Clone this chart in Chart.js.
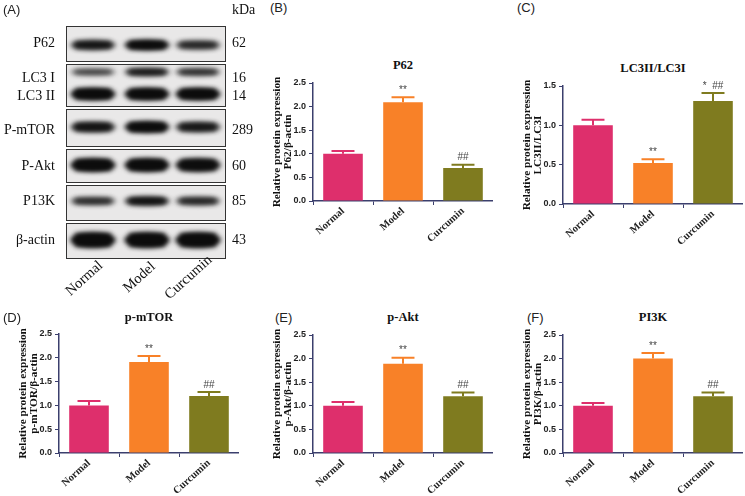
<!DOCTYPE html>
<html lang="en">
<head>
    <meta charset="UTF-8">
    <title>Curcumin - autophagy and PI3K/Akt/mTOR</title>
    <script src="https://cdn.jsdelivr.net/npm/chart.js"></script>
    <style>
        html, body { margin: 0; padding: 0; background: #fff; overflow: hidden; }
        body { width: 745px; height: 496px; position: relative; font-family: "Liberation Sans", Arial, sans-serif; }
        .box { position: absolute; }
        .panel { position: absolute; font-size: 13px; color: #222; line-height: 1; }
        .ctitle { position: absolute; font: bold 12.5px "Liberation Serif", serif; color: #111; transform: translate(-50%, -50%); white-space: nowrap; }
        .blot-label { position: absolute; font: 14px "Liberation Serif", serif; color: #111; white-space: nowrap; transform: translateY(-50%); }
        .lane { position: absolute; font: 14.5px "Liberation Serif", serif; color: #111; white-space: nowrap; transform: translate(-50%, -50%) rotate(-42deg); }
    </style>
</head>
<body>
    <!-- panel A: western blot -->
    <canvas id="blot" class="box" width="260" height="262" style="left:0;top:0;width:260px;height:262px"></canvas>
    <div id="blotText"></div>

    <div class="panel" style="left:3px;top:3px">(A)</div>
    <div class="panel" style="left:270px;top:1px">(B)</div>
    <div class="panel" style="left:517px;top:1px">(C)</div>
    <div class="panel" style="left:3px;top:311px">(D)</div>
    <div class="panel" style="left:275px;top:311px">(E)</div>
    <div class="panel" style="left:527px;top:311px">(F)</div>

    <div class="ctitle" style="left:403px;top:65px">P62</div>
    <div class="ctitle" style="left:653px;top:68px">LC3II/LC3I</div>
    <div class="ctitle" style="left:149px;top:317px">p-mTOR</div>
    <div class="ctitle" style="left:403px;top:317px">p-Akt</div>
    <div class="ctitle" style="left:653px;top:317px">PI3K</div>

    <div class="box" style="left:255px;top:73px"><canvas id="chartB" width="238" height="171"></canvas></div>
    <div class="box" style="left:505px;top:76px"><canvas id="chartC" width="238" height="171"></canvas></div>
    <div class="box" style="left:1px;top:324px"><canvas id="chartD" width="238" height="172"></canvas></div>
    <div class="box" style="left:255px;top:325px"><canvas id="chartE" width="238" height="171"></canvas></div>
    <div class="box" style="left:505px;top:325px"><canvas id="chartF" width="238" height="171"></canvas></div>

    <script>
        // groups and colours
        const groups = ['Normal', 'Model', 'Curcumin'];
        const groupColors = ['#de2f6c', '#f88128', '#7f7b1f'];

        // (B) P62
        const p62Values = [1.0, 2.09, 0.70];
        const p62Errors = [0.06, 0.11, 0.07];
        const p62Marks = ['', '**', '##'];
        // (C) LC3II/LC3I
        const lc3Values = [1.0, 0.52, 1.31];
        const lc3Errors = [0.07, 0.05, 0.10];
        const lc3Marks = ['', '**', '*  ##'];
        // (D) p-mTOR
        const mtorValues = [1.0, 1.91, 1.20];
        const mtorErrors = [0.09, 0.13, 0.08];
        const mtorMarks = ['', '**', '##'];
        // (E) p-Akt
        const aktValues = [1.0, 1.89, 1.20];
        const aktErrors = [0.08, 0.13, 0.08];
        const aktMarks = ['', '**', '##'];
        // (F) PI3K
        const pi3kValues = [1.0, 2.0, 1.20];
        const pi3kErrors = [0.06, 0.12, 0.08];
        const pi3kMarks = ['', '**', '##'];

        const ticks25 = [0, 0.5, 1.0, 1.5, 2.0, 2.5];
        const ticks15 = [0, 0.5, 1.0, 1.5];

        // (A) blot: band intensity per lane, and labels
        const blotRows = ['P62', 'LC3 I', 'LC3 II', 'P-mTOR', 'P-Akt', 'P13K', 'β-actin'];
        const kdaLabels = ['62', '16', '14', '289', '60', '85', '43'];
        const p62Band = [0.8, 1.0, 0.62];
        const lc3iBand = [0.45, 0.8, 0.62];
        const lc3iiBand = [1.0, 1.0, 1.0];
        const mtorBand = [0.8, 1.0, 0.75];
        const aktBand = [1.0, 1.0, 0.95];
        const pi3kBand = [0.6, 0.88, 0.65];
        const actinBand = [1.0, 1.0, 1.0];

        const axisColor = '#3b3f6d';

        // ---- blot drawing ----
        const frames = [[26, 61], [64, 106], [109, 146], [149, 182], [185, 220], [223, 258]];
        const bandRows = [
            { y: 45, h: 8, v: p62Band },
            { y: 72, h: 6, v: lc3iBand },
            { y: 94, h: 10, v: lc3iiBand },
            { y: 127, h: 9, v: mtorBand },
            { y: 165, h: 11, v: aktBand },
            { y: 201, h: 7, v: pi3kBand },
            { y: 240, h: 13, v: actinBand }
        ];
        const laneX = [93, 147, 198];
        const rowLabelY = [43, 78, 96, 130, 166, 201, 240];

        const bctx = document.getElementById('blot').getContext('2d');
        frames.forEach(f => {
            bctx.fillStyle = '#e9e8e8';
            bctx.fillRect(66, f[0], 160, f[1] - f[0]);
        });
        bctx.save();
        bctx.filter = 'blur(2.5px)';
        bandRows.forEach(r => {
            r.v.forEach((a, i) => {
                const h = r.h * (0.55 + 0.45 * a);
                bctx.fillStyle = 'rgba(12,12,12,' + (0.25 + 0.75 * a) + ')';
                bctx.beginPath();
                bctx.ellipse(laneX[i], r.y, 23, h / 2 + 1, 0, 0, Math.PI * 2);
                bctx.fill();
                bctx.fillRect(laneX[i] - 18, r.y - h / 2, 36, h);
            });
        });
        bctx.restore();
        frames.forEach(f => {
            bctx.clearRect(0, f[0] - 3, 66, f[1] - f[0] + 6);
            bctx.clearRect(226, f[0] - 3, 34, f[1] - f[0] + 6);
        });
        bctx.strokeStyle = '#333';
        bctx.lineWidth = 1;
        frames.forEach(f => bctx.strokeRect(66.5, f[0] + 0.5, 159, f[1] - f[0]));

        const blotText = document.getElementById('blotText');
        blotText.innerHTML = '';
        blotRows.forEach((name, i) => {
            const d = document.createElement('div');
            d.className = 'blot-label';
            d.style.right = (745 - 55) + 'px';
            d.style.top = rowLabelY[i] + 'px';
            d.textContent = name;
            blotText.appendChild(d);
            const k = document.createElement('div');
            k.className = 'blot-label';
            k.style.left = '232px';
            k.style.top = rowLabelY[i] + 'px';
            k.textContent = kdaLabels[i];
            blotText.appendChild(k);
        });
        const kda = document.createElement('div');
        kda.className = 'blot-label';
        kda.style.left = '232px';
        kda.style.top = '10px';
        kda.textContent = 'kDa';
        blotText.appendChild(kda);
        const laneCenters = [[84, 278], [139, 277], [188, 277]];
        groups.forEach((g, i) => {
            const d = document.createElement('div');
            d.className = 'lane';
            d.style.left = laneCenters[i][0] + 'px';
            d.style.top = laneCenters[i][1] + 'px';
            d.textContent = g;
            blotText.appendChild(d);
        });

        // error bars + significance marks
        const errorBars = {
            id: 'errorBars',
            afterDatasetsDraw(chart) {
                const { ctx, scales: { y } } = chart;
                const meta = chart.getDatasetMeta(0);
                const ds = chart.data.datasets[0];
                ctx.save();
                meta.data.forEach((bar, i) => {
                    const top = y.getPixelForValue(ds.data[i]);
                    const cap = y.getPixelForValue(ds.data[i] + ds.errors[i]);
                    const half = bar.width * 0.29;
                    ctx.strokeStyle = ds.backgroundColor[i];
                    ctx.lineWidth = 2;
                    ctx.beginPath();
                    ctx.moveTo(bar.x, top);
                    ctx.lineTo(bar.x, cap);
                    ctx.moveTo(bar.x - half, cap);
                    ctx.lineTo(bar.x + half, cap);
                    ctx.stroke();
                    if (ds.marks[i]) {
                        ctx.fillStyle = '#444';
                        ctx.font = '10px "Liberation Sans", Arial, sans-serif';
                        ctx.textAlign = 'center';
                        ctx.textBaseline = 'bottom';
                        ctx.fillText(ds.marks[i], bar.x, cap - 2);
                    }
                });
                ctx.restore();
            }
        };

        function makeChart(id, ratio, values, errors, marks, tickList) {
            return new Chart(document.getElementById(id), {
                type: 'bar',
                data: {
                    labels: groups,
                    datasets: [{
                        data: values,
                        errors: errors,
                        marks: marks,
                        backgroundColor: groupColors,
                        borderWidth: 0,
                        categoryPercentage: 1,
                        barPercentage: 0.66
                    }]
                },
                options: {
                    responsive: false,
                    animation: false,
                    layout: { padding: { top: 10, right: 0, bottom: 0, left: 0 } },
                    plugins: { legend: { display: false }, tooltip: { enabled: false } },
                    scales: {
                        x: {
                            grid: { drawOnChartArea: false, drawTicks: true, tickLength: 4, color: axisColor, lineWidth: 1 },
                            border: { color: axisColor, width: 1.5 },
                            ticks: {
                                minRotation: 42, maxRotation: 42, padding: 0,
                                color: '#222',
                                font: { family: '"Liberation Serif", serif', size: 10.5, weight: 'bold' }
                            },
                            afterFit(scale) { scale.height = 43; }
                        },
                        y: {
                            min: 0,
                            max: tickList[tickList.length - 1],
                            afterBuildTicks(scale) { scale.ticks = tickList.map(v => ({ value: v })); },
                            grid: { drawOnChartArea: false, drawTicks: true, tickLength: 4, color: axisColor, lineWidth: 1 },
                            border: { color: axisColor, width: 1.5 },
                            ticks: {
                                padding: 3,
                                color: '#222',
                                font: { family: '"Liberation Sans", Arial, sans-serif', size: 9, weight: 'bold' },
                                callback: v => Number(v).toFixed(1)
                            },
                            title: {
                                display: true,
                                text: ['Relative protein expression', ratio],
                                color: '#111',
                                padding: { top: 16, bottom: 0 },
                                font: { family: '"Liberation Serif", serif', size: 11.3, weight: 'bold', lineHeight: 1.0 }
                            },
                            afterFit(scale) { scale.width = 58; }
                        }
                    }
                },
                plugins: [errorBars]
            });
        }

        makeChart('chartB', 'P62/β-actin', p62Values, p62Errors, p62Marks, ticks25);
        makeChart('chartC', 'LC3II/LC3I', lc3Values, lc3Errors, lc3Marks, ticks15);
        makeChart('chartD', 'p-mTOR/β-actin', mtorValues, mtorErrors, mtorMarks, ticks25);
        makeChart('chartE', 'p-Akt/β-actin', aktValues, aktErrors, aktMarks, ticks25);
        makeChart('chartF', 'PI3K/β-actin', pi3kValues, pi3kErrors, pi3kMarks, ticks25);
    </script>
</body>
</html>
